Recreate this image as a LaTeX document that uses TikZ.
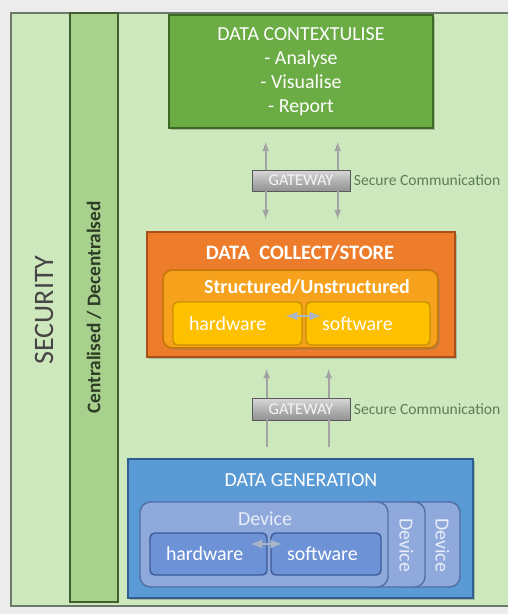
\documentclass[tikz,border=0pt]{standalone}
\usepackage{fontspec}
\setmainfont{Carlito}
\usepackage{tikz}
\usetikzlibrary{calc,arrows,shadows}

\definecolor{pagegray}{HTML}{ECECEC}
\definecolor{bggreen}{HTML}{CEE8BE}
\definecolor{framegray}{HTML}{6B7A6A}
\definecolor{barfill}{HTML}{A9D18E}
\definecolor{bardark}{HTML}{3F5F2E}
\definecolor{bartext}{HTML}{2D3D25}
\definecolor{securitygray}{HTML}{454545}
\definecolor{ctxgreen}{HTML}{6BAC45}
\definecolor{ctxdark}{HTML}{3B6A20}
\definecolor{commgreen}{HTML}{5D7D55}
\definecolor{storeorange}{HTML}{EE7D2B}
\definecolor{storedark}{HTML}{A8501A}
\definecolor{structorange}{HTML}{F6A21C}
\definecolor{structdark}{HTML}{C9780C}
\definecolor{partyellow}{HTML}{FFC000}
\definecolor{partdark}{HTML}{C99100}
\definecolor{genblue}{HTML}{5B9BD5}
\definecolor{gendark}{HTML}{2F5F8F}
\definecolor{devblue}{HTML}{8FA9DC}
\definecolor{devdark}{HTML}{4F6EA8}
\definecolor{partblue}{HTML}{6E92D6}
\definecolor{partbdark}{HTML}{3A5A98}
\definecolor{devtext}{HTML}{E8EEF9}
\definecolor{linkgray}{HTML}{A3A3A3}
\definecolor{swapgray}{HTML}{AAB6C8}

\newcommand{\bigtxt}{\fontsize{17}{20.5}\selectfont}
\newcommand{\bigbold}{\fontsize{17.5}{20}\selectfont\bfseries}
\newcommand{\midbold}{\fontsize{17}{20}\selectfont\bfseries}
\newcommand{\commtxt}{\fontsize{13.3}{16}\selectfont}
\newcommand{\gwtxt}{\fontsize{14}{16}\selectfont}

\tikzset{wh/.style 2 args={minimum width=#1*0.03cm,minimum height=#2*0.03cm}}
\tikzset{ht/.style={minimum height=#1*0.03cm}}
\tikzset{blk/.style={draw,line width=1.5pt,inner sep=0pt,align=center,text=white,
    drop shadow={opacity=0.45,shadow xshift=1.5pt,shadow yshift=-1.5pt}}}
\tikzset{bar/.style={draw=bardark,fill=barfill,line width=1.5pt,inner sep=0pt,
    text=bartext,font=\fontsize{16.5}{19}\selectfont\bfseries}}
\tikzset{gw/.style={draw=gray!70!black,line width=0.6pt,top color=gray!30,bottom color=gray!85,
    middle color=gray!60,text=white!92!gray,inner sep=0pt,font=\gwtxt}}
\tikzset{comm/.style={text=commgreen,font=\commtxt,inner sep=0pt}}
\tikzset{part/.style={draw,line width=1.2pt,rounded corners=4pt,inner xsep=0.48cm,
    align=left,text=white,font=\bigtxt}}
\tikzset{dev/.style={draw=devdark,fill=devblue,line width=1.2pt,rounded corners=9pt,inner sep=0pt}}
\tikzset{devlbl/.style={rotate=-90,text=devtext,font=\bigtxt,inner sep=0pt}}
\tikzset{link/.style={draw=linkgray,line width=1.7pt}}
\tikzset{swap/.style={draw=swapgray,line width=2.4pt,latex-latex}}

\begin{document}
\begin{tikzpicture}[x=0.03cm,y=-0.03cm]
    \useasboundingbox (0,0) rectangle (508,614);
    \fill[pagegray] (0,0) rectangle (508,614);
    \draw[fill=bggreen,draw=framegray,line width=1pt] (11,13) rectangle (540,606);

    \node[rotate=90,text=securitygray,font=\fontsize{24}{28}\selectfont] (security) at (44,310) {SECURITY};
    \node[bar,rotate=90,wh={589}{48}] (bar) at (94,307.5) {Centralised / Decentralsed};

    \node[blk,fill=ctxgreen,draw=ctxdark,wh={264}{113},font=\bigtxt] (ctx) at (301,71.5)
        {DATA CONTEXTULISE\\- Analyse\\- Visualise\\- Report};

    \node[gw,wh={98}{21}] (gwa) at (301,180.5) {GATEWAY};
    \node[comm,anchor=west] (comma) at ([xshift=0.1cm]gwa.east) {Secure Communication};

    \node[blk,fill=storeorange,draw=storedark,wh={308}{125}] (store) at (301,294.5) {};
    \node[font=\bigbold,text=white] (storet) at (300,253) {DATA\ \ COLLECT/STORE};
    \node[blk,rounded corners=8pt,fill=structorange,draw=structdark,wh={275}{78}] (struct) at (300.5,309) {};
    \node[font=\midbold,text=white] (structt) at (307,287) {Structured/Unstructured};
    \node[part,fill=partyellow,draw=partdark,ht=43,text width=2.91cm] (hwa) at (237.5,323.5) {hardware};
    \node[part,fill=partyellow,draw=partdark,ht=43,text width=2.76cm] (swa) at (368,323.5) {software};
    \draw[swap] ([shift={(-17,-7.5)}]hwa.east) -- ([shift={(16,-7.5)}]swa.west);

    \node[gw,wh={98}{22}] (gwb) at (301,409) {GATEWAY};
    \node[comm,anchor=west] (commb) at ([xshift=0.1cm]gwb.east) {Secure Communication};

    \node[blk,fill=genblue,draw=gendark,wh={345}{139}] (gen) at (300.5,528.5) {};
    \node[font=\bigtxt,text=white] (gent) at (301,480) {DATA GENERATION};
    \node[dev,wh={65}{85}] (dev3) at (427.5,544.5) {};
    \node[dev,wh={65}{85}] (dev2) at (392.5,544.5) {};
    \node[dev,wh={248}{85}] (dev1) at (264,544.5) {};
    \node[devlbl] (dev3t) at (442.5,545) {Device};
    \node[devlbl] (dev2t) at (406.5,545) {Device};
    \node[font=\bigtxt,text=devtext] (dev1t) at (265,519) {Device};
    \node[part,fill=partblue,draw=partbdark,ht=42,text width=2.55cm] (hwb) at (208.5,554) {hardware};
    \node[part,fill=partblue,draw=partbdark,ht=42,text width=2.34cm] (swb) at (326,554) {software};
    \draw[swap] ([shift={(-17,-10)}]hwb.east) -- ([shift={(12,-10)}]swb.west);

    \foreach \dx in {14,86}
    {
        \draw[link,-latex,shorten >=0.39cm] ([xshift=\dx*0.03cm]gwa.north west) -- ([xshift=\dx*0.03cm]gwa.north west |- ctx.south);
        \draw[link,-latex,shorten >=0.36cm] ([xshift=\dx*0.03cm]gwa.south west) -- ([xshift=\dx*0.03cm]gwa.south west |- store.north);
    }
    \foreach \dx in {15,77}
    {
        \draw[link,-latex,shorten >=0.33cm] ([xshift=\dx*0.03cm]gwb.north west) -- ([xshift=\dx*0.03cm]gwb.north west |- store.south);
        \draw[link,shorten >=0.33cm] ([xshift=\dx*0.03cm]gwb.south west) -- ([xshift=\dx*0.03cm]gwb.south west |- gen.north);
    }
\end{tikzpicture}
\end{document}
